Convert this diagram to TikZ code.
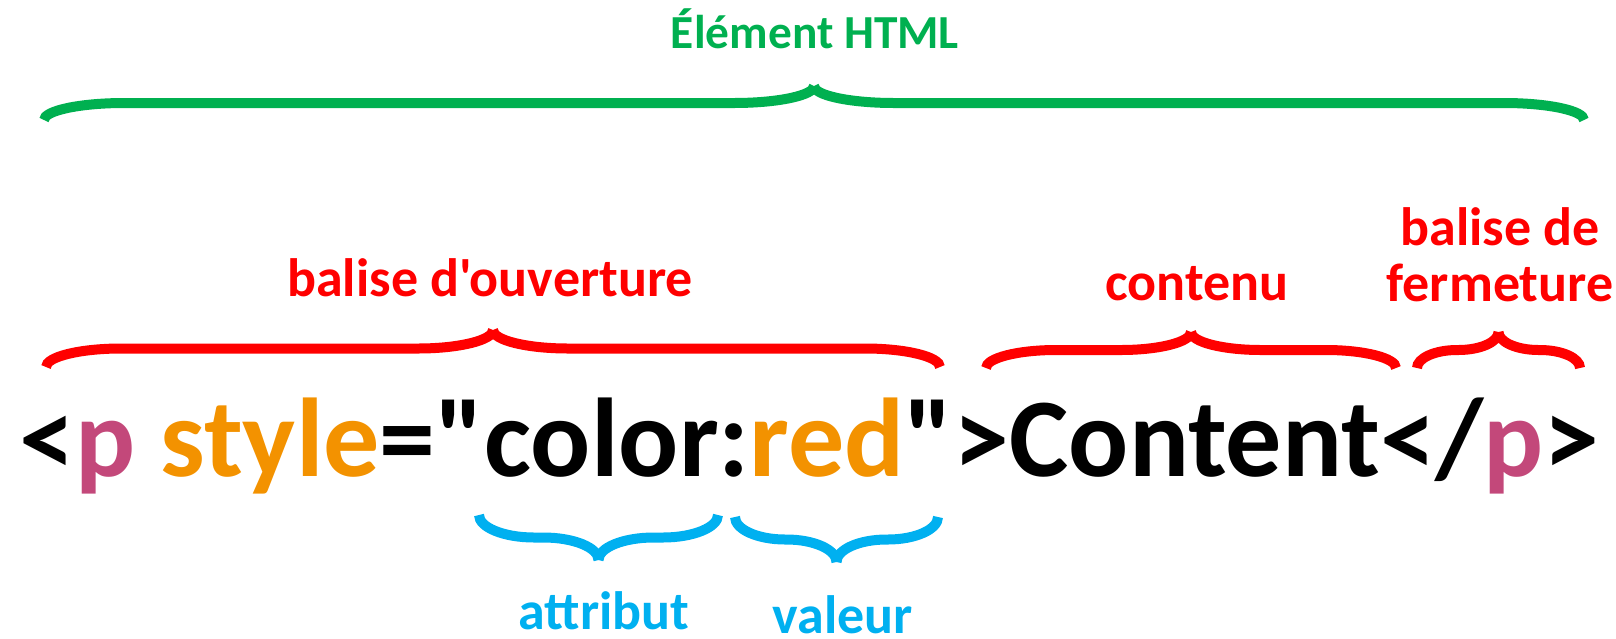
\documentclass[tikz,border=0pt]{standalone}
\usepackage{fontspec}
\setmainfont{Carlito}[Ligatures=TeXOff]
\definecolor{elemgreen}{HTML}{00B050}
\definecolor{tagred}{HTML}{FF0000}
\definecolor{attrblue}{HTML}{00B0F0}
\definecolor{tagpink}{HTML}{C3487A}
\definecolor{attrorange}{HTML}{F39200}

% curly brace: [style] {left x}{right x}{end y}{tip y}{curve length}
\newcommand{\hbrace}[6][]{%
  \draw[#1] (#2,#4) .. controls (#2,{#4+0.55*((#4+#5)/2-#4)}) and ({#2+0.45*#6},{(#4+#5)/2}) .. ({#2+#6},{(#4+#5)/2})
    -- ({(#2+#3)/2-#6},{(#4+#5)/2}) .. controls ({(#2+#3)/2-0.45*#6},{(#4+#5)/2}) and ({(#2+#3)/2},{#5+0.55*((#4+#5)/2-#5)}) .. ({(#2+#3)/2},#5);
  \draw[#1] (#3,#4) .. controls (#3,{#4+0.55*((#4+#5)/2-#4)}) and ({#3-0.45*#6},{(#4+#5)/2}) .. ({#3-#6},{(#4+#5)/2})
    -- ({(#2+#3)/2+#6},{(#4+#5)/2}) .. controls ({(#2+#3)/2+0.45*#6},{(#4+#5)/2}) and ({(#2+#3)/2},{#5+0.55*((#4+#5)/2-#5)}) .. ({(#2+#3)/2},#5);
}

\begin{document}
\begin{tikzpicture}[x=0.5pt,y=-0.5pt,
  greenbrace/.style={draw=elemgreen,line width=5pt},
  redbrace/.style={draw=tagred,line width=5pt},
  bluebrace/.style={draw=attrblue,line width=5pt},
  label/.style={anchor=base,inner sep=0pt,font=\bfseries\fontsize{27}{28}\selectfont}]
\useasboundingbox (0,0) rectangle (1616,638);

\node[label,text=elemgreen,font=\bfseries\fontsize{23.7}{26}\selectfont] (element) at (815,48) {Élément HTML};
\node[label,text=tagred] (opening) at (490,296) {balise d'ouverture};
\node[label,text=tagred] (content) at (1197,300) {contenu};
\node[label,text=tagred,align=center] (closing) at (1500,301) {balise de\\fermeture};
\node[label,text=attrblue] (attribute) at (604,629) {attribut};
\node[label,text=attrblue] (value) at (843,633) {valeur};

\node[anchor=base west,inner sep=0pt,font=\bfseries\fontsize{56}{60}\selectfont] (code) at (19,476)
  {<\textcolor{tagpink}{p} \textcolor{attrorange}{style}="color:\textcolor{attrorange}{red}">Content</\textcolor{tagpink}{p}>};

\hbrace[greenbrace]{44}{1584}{120}{86}{80}
\hbrace[redbrace]{46}{940}{367}{330}{75}
\hbrace[redbrace]{986}{1396}{368}{332}{70}
\hbrace[redbrace]{1417}{1580}{368}{332}{40}
\hbrace[bluebrace]{479}{718}{515}{560}{55}
\hbrace[bluebrace]{735}{938}{517}{562}{50}
\end{tikzpicture}
\end{document}
